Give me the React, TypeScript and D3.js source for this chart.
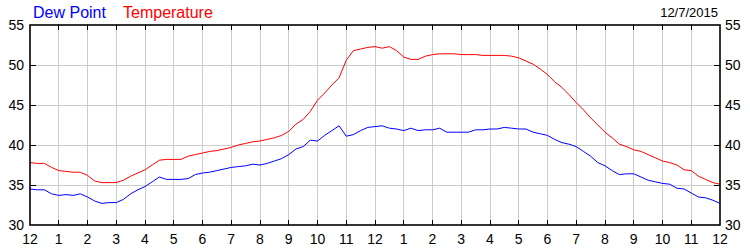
import React from "react";
import * as d3 from "d3";

const hourTicks = [0, 1, 2, 3, 4, 5, 6, 7, 8, 9, 10, 11, 12, 13, 14, 15, 16, 17, 18, 19, 20, 21, 22, 23, 24];
const hourLabels = ["12", "1", "2", "3", "4", "5", "6", "7", "8", "9", "10", "11", "12", "1", "2", "3", "4", "5", "6", "7", "8", "9", "10", "11", "12"];
const yTicks = [30, 35, 40, 45, 50, 55];

// 15-minute readings (hours 0..24)
const temperature = [
  37.8, 37.7, 37.7, 37.2, 36.8, 36.7, 36.6, 36.6,
  36.2, 35.5, 35.3, 35.3, 35.3, 35.6, 36.1, 36.5,
  36.9, 37.5, 38.1, 38.2, 38.2, 38.2, 38.6, 38.8,
  39.0, 39.2, 39.3, 39.5, 39.7, 40.0, 40.2, 40.4,
  40.5, 40.7, 40.9, 41.2, 41.7, 42.6, 43.2, 44.2,
  45.6, 46.5, 47.5, 48.4, 50.6, 51.8, 52.0, 52.2,
  52.3, 52.1, 52.3, 51.8, 51.0, 50.7, 50.7, 51.1,
  51.3, 51.4, 51.4, 51.4, 51.3, 51.3, 51.3, 51.2,
  51.2, 51.2, 51.2, 51.1, 50.9, 50.5, 50.1, 49.5,
  48.8, 47.9, 47.2, 46.3, 45.3, 44.4, 43.4, 42.5,
  41.6, 40.9, 40.1, 39.8, 39.4, 39.2, 38.8, 38.4,
  38.0, 37.8, 37.5, 36.9, 36.8, 36.1, 35.7, 35.3,
  35.1,
];

const dewPoint = [
  34.5, 34.4, 34.4, 33.9, 33.7, 33.8, 33.7, 33.9,
  33.5, 33.0, 32.7, 32.8, 32.8, 33.2, 33.9, 34.4,
  34.8, 35.4, 36.0, 35.7, 35.7, 35.7, 35.8, 36.3,
  36.5, 36.6, 36.8, 37.0, 37.2, 37.3, 37.4, 37.6,
  37.5, 37.7, 38.0, 38.3, 38.8, 39.5, 39.8, 40.6,
  40.5, 41.2, 41.8, 42.4, 41.1, 41.3, 41.8, 42.2,
  42.3, 42.4, 42.1, 42.0, 41.8, 42.1, 41.8, 41.9,
  41.9, 42.1, 41.6, 41.6, 41.6, 41.6, 41.9, 41.9,
  42.0, 42.0, 42.2, 42.1, 42.0, 42.0, 41.6, 41.4,
  41.2, 40.7, 40.3, 40.1, 39.8, 39.2, 38.6, 37.8,
  37.4, 36.8, 36.3, 36.4, 36.4, 36.0, 35.6, 35.4,
  35.2, 35.1, 34.6, 34.5, 34.0, 33.5, 33.4, 33.1,
  32.7,
];

const legendNames = ["Dew Point", "Temperature"];
const dateLabel = "12/7/2015";

export default function App() {
  const W = 750, H = 250;
  const left = 30, right = 720, top = 25, bottom = 225;
  const x = d3.scaleLinear().domain([0, 24]).range([left, right]);
  const y = d3.scaleLinear().domain([30, 55]).range([bottom, top]);
  const font = "'Liberation Sans', Arial, sans-serif";

  const line = d3
    .line<number>()
    .x((_, i) => x(i * 0.25))
    .y((d) => y(d));

  return (
    <svg
      width={W}
      height={H}
      style={{ position: "absolute", left: 0, top: 0, background: "#fff" }}
      fontFamily={font}
    >
      <rect x={0} y={0} width={W} height={H} fill="#fff" />
      {/* grid */}
      {hourTicks.slice(1, -1).map((h) => (
        <line key={"gv" + h} x1={x(h)} x2={x(h)} y1={top} y2={bottom} stroke="#cccccc" strokeWidth={1} shapeRendering="crispEdges" />
      ))}
      {yTicks.slice(1, -1).map((v) => (
        <line key={"gh" + v} x1={left} x2={right} y1={y(v)} y2={y(v)} stroke="#cccccc" strokeWidth={1} shapeRendering="crispEdges" />
      ))}
      {/* series */}
      <path d={line(temperature) || ""} fill="none" stroke="#ff0000" strokeWidth={1} />
      <path d={line(dewPoint) || ""} fill="none" stroke="#0000ff" strokeWidth={1} />
      {/* frame */}
      <rect x={left} y={top} width={right - left} height={bottom - top} fill="none" stroke="#000" strokeWidth={1.6} />
      {/* ticks */}
      {hourTicks.slice(1, -1).map((h) => (
        <g key={"t" + h}>
          <line x1={x(h)} x2={x(h)} y1={bottom} y2={bottom - 5} stroke="#000" strokeWidth={1} shapeRendering="crispEdges" />
          <line x1={x(h)} x2={x(h)} y1={top} y2={top + 5} stroke="#000" strokeWidth={1} shapeRendering="crispEdges" />
        </g>
      ))}
      {yTicks.slice(1, -1).map((v) => (
        <g key={"ty" + v}>
          <line x1={left} x2={left + 6} y1={y(v)} y2={y(v)} stroke="#000" strokeWidth={1} shapeRendering="crispEdges" />
          <line x1={right} x2={right - 6} y1={y(v)} y2={y(v)} stroke="#000" strokeWidth={1} shapeRendering="crispEdges" />
        </g>
      ))}
      {/* y labels */}
      {yTicks.map((v) => (
        <g key={"yl" + v}>
          <text x={left - 6} y={y(v) + 5} textAnchor="end" fontSize={14} fill="#000">{v}</text>
          <text x={right + 5} y={y(v) + 5} textAnchor="start" fontSize={14} fill="#000">{v}</text>
        </g>
      ))}
      {/* x labels */}
      {hourTicks.map((h, i) => (
        <text key={"xl" + h} x={x(h)} y={244} textAnchor="middle" fontSize={14} fill="#000">{hourLabels[i]}</text>
      ))}
      {/* legend */}
      <text x={33} y={18} fontSize={16} fill="#0000ff">{legendNames[0]}</text>
      <text x={123} y={18} fontSize={16} fill="#ff0000">{legendNames[1]}</text>
      <text x={718} y={17} fontSize={13} textAnchor="end" fill="#000">{dateLabel}</text>
    </svg>
  );
}
